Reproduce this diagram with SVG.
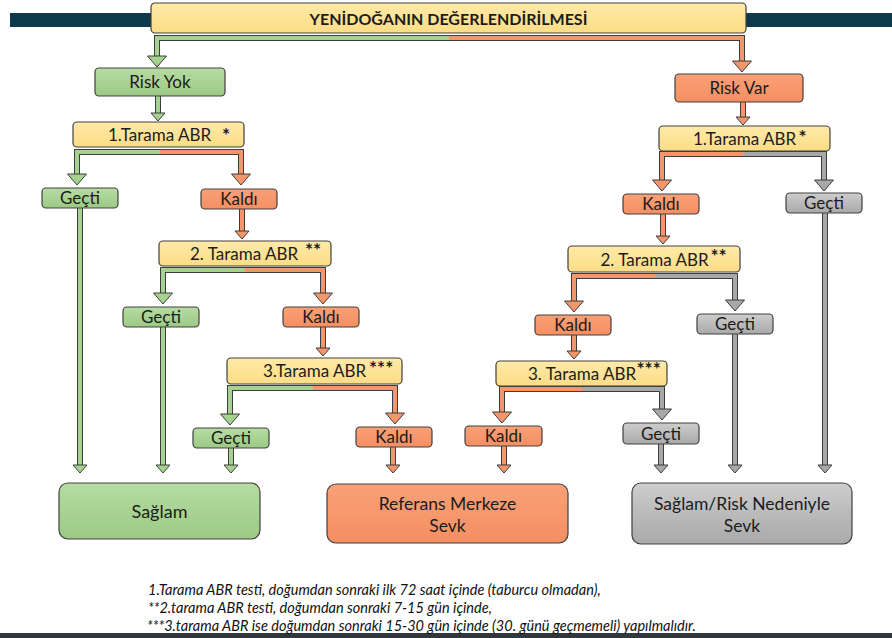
<svg xmlns="http://www.w3.org/2000/svg" xmlns:xlink="http://www.w3.org/1999/xlink" width="892" height="638" viewBox="0 0 892 638">
<defs>
<linearGradient id="gY" x1="0" y1="0" x2="0" y2="1"><stop offset="0" stop-color="#ffeaa8"/><stop offset="1" stop-color="#fcdc86"/></linearGradient>
<linearGradient id="gG" x1="0" y1="0" x2="0" y2="1"><stop offset="0" stop-color="#b6dca3"/><stop offset="1" stop-color="#9bca84"/></linearGradient>
<linearGradient id="gO" x1="0" y1="0" x2="0" y2="1"><stop offset="0" stop-color="#f9a077"/><stop offset="1" stop-color="#f48f62"/></linearGradient>
<linearGradient id="gS" x1="0" y1="0" x2="0" y2="1"><stop offset="0" stop-color="#cdcdcd"/><stop offset="1" stop-color="#a9a9a9"/></linearGradient>
<style>
.box{stroke:#404040;stroke-width:1.2}
.y{fill:url(#gY)}.g{fill:url(#gG)}.o{fill:url(#gO)}.s{fill:url(#gS)}
.t{font-family:Lato,"Open Sans",sans-serif;font-size:17px;fill:#1c1c1c;text-anchor:middle}
.big{font-size:17.5px}
.st{font-family:Lato,"Open Sans",sans-serif;font-size:19px;font-weight:bold;fill:#1c1c1c}
.ttl{font-family:Lato,"Open Sans",sans-serif;font-size:16px;font-weight:bold;fill:#1c1c1c;text-anchor:middle}
.fn{font-family:Lato,"Open Sans",sans-serif;font-size:14.5px;font-style:italic;fill:#111}
.ol{fill:none;stroke:#3d3d3d;stroke-width:6;stroke-linejoin:miter;stroke-linecap:butt}
.cg{fill:none;stroke:#a6d290;stroke-width:4;stroke-linejoin:miter}
.co{fill:none;stroke:#f4956a;stroke-width:4;stroke-linejoin:miter}
.cs{fill:none;stroke:#a8a8a8;stroke-width:4;stroke-linejoin:miter}
.ag{fill:#a6d290;stroke:#3d3d3d;stroke-width:1}
.ao{fill:#f4956a;stroke:#3d3d3d;stroke-width:1}
.as{fill:#a8a8a8;stroke:#3d3d3d;stroke-width:1}
</style>
<path id="p1" d="M449,38 H157 V57"/>
<path id="p2" d="M449,38 H742 V62"/>
<path id="p3" d="M158,96 V114"/>
<path id="p4" d="M743,102 V118"/>
<path id="p5" d="M160,152 H77 V175"/>
<path id="p6" d="M160,152 H241 V175"/>
<path id="p7" d="M80,208 V466"/>
<path id="p8" d="M242,209 V232"/>
<path id="p9" d="M245,270 H163 V294"/>
<path id="p10" d="M245,270 H323 V294"/>
<path id="p11" d="M163,327 V466"/>
<path id="p12" d="M323,327 V349"/>
<path id="p13" d="M313,388 H230 V415"/>
<path id="p14" d="M313,388 H395 V414"/>
<path id="p15" d="M231,448 V466"/>
<path id="p16" d="M393,447 V466"/>
<path id="p17" d="M743,154 H662 V181"/>
<path id="p18" d="M743,154 H824 V181"/>
<path id="p19" d="M663,214 V237"/>
<path id="p20" d="M825,213 V466"/>
<path id="p21" d="M655,276 H574 V302"/>
<path id="p22" d="M655,276 H735 V301"/>
<path id="p23" d="M574,335 V352"/>
<path id="p24" d="M735,334 V466"/>
<path id="p25" d="M582,389 H502 V413"/>
<path id="p26" d="M582,389 H662 V410"/>
<path id="p27" d="M504,446 V466"/>
<path id="p28" d="M661,444 V466"/>
</defs>
<rect x="0" y="0" width="892" height="638" fill="#ffffff"/>
<rect x="10" y="13" width="882" height="14" fill="#0c3a4a"/>
<rect x="0" y="633" width="892" height="5" fill="#30383b"/>

<g id="connectors">
<g id="outlines">
<use xlink:href="#p1" class="ol"/><use xlink:href="#p2" class="ol"/><use xlink:href="#p3" class="ol"/><use xlink:href="#p4" class="ol"/>
<use xlink:href="#p5" class="ol"/><use xlink:href="#p6" class="ol"/><use xlink:href="#p7" class="ol"/><use xlink:href="#p8" class="ol"/>
<use xlink:href="#p9" class="ol"/><use xlink:href="#p10" class="ol"/><use xlink:href="#p11" class="ol"/><use xlink:href="#p12" class="ol"/>
<use xlink:href="#p13" class="ol"/><use xlink:href="#p14" class="ol"/><use xlink:href="#p15" class="ol"/><use xlink:href="#p16" class="ol"/>
<use xlink:href="#p17" class="ol"/><use xlink:href="#p18" class="ol"/><use xlink:href="#p19" class="ol"/><use xlink:href="#p20" class="ol"/>
<use xlink:href="#p21" class="ol"/><use xlink:href="#p22" class="ol"/><use xlink:href="#p23" class="ol"/><use xlink:href="#p24" class="ol"/>
<use xlink:href="#p25" class="ol"/><use xlink:href="#p26" class="ol"/><use xlink:href="#p27" class="ol"/><use xlink:href="#p28" class="ol"/>
</g>
<g id="fills">
<use xlink:href="#p1" class="cg"/><use xlink:href="#p2" class="co"/><use xlink:href="#p3" class="cg"/><use xlink:href="#p4" class="co"/>
<use xlink:href="#p5" class="cg"/><use xlink:href="#p6" class="co"/><use xlink:href="#p7" class="cg"/><use xlink:href="#p8" class="co"/>
<use xlink:href="#p9" class="cg"/><use xlink:href="#p10" class="co"/><use xlink:href="#p11" class="cg"/><use xlink:href="#p12" class="co"/>
<use xlink:href="#p13" class="cg"/><use xlink:href="#p14" class="co"/><use xlink:href="#p15" class="cg"/><use xlink:href="#p16" class="co"/>
<use xlink:href="#p17" class="co"/><use xlink:href="#p18" class="cs"/><use xlink:href="#p19" class="co"/><use xlink:href="#p20" class="cs"/>
<use xlink:href="#p21" class="co"/><use xlink:href="#p22" class="cs"/><use xlink:href="#p23" class="co"/><use xlink:href="#p24" class="cs"/>
<use xlink:href="#p25" class="co"/><use xlink:href="#p26" class="cs"/><use xlink:href="#p27" class="co"/><use xlink:href="#p28" class="cs"/>
</g>
<g id="heads">
<polygon class="ag" points="147.5,56 166.5,56 157,67"/>
<polygon class="ao" points="732.5,61 751.5,61 742,72"/>
<polygon class="ag" points="151,113 165,113 158,121"/>
<polygon class="ao" points="736,117 750,117 743,125"/>
<polygon class="ag" points="67.5,174 86.5,174 77,185"/>
<polygon class="ao" points="231.5,174 250.5,174 241,185"/>
<polygon class="ag" points="73,465 87,465 80,473"/>
<polygon class="ao" points="235,231 249,231 242,239"/>
<polygon class="ag" points="153.5,293 172.5,293 163,304"/>
<polygon class="ao" points="313.5,293 332.5,293 323,304"/>
<polygon class="ag" points="156,465 170,465 163,473"/>
<polygon class="ao" points="316,348 330,348 323,356"/>
<polygon class="ag" points="220.5,414 239.5,414 230,425"/>
<polygon class="ao" points="385.5,413 404.5,413 395,424"/>
<polygon class="ag" points="224,465 238,465 231,473"/>
<polygon class="ao" points="386,465 400,465 393,473"/>
<polygon class="ao" points="652.5,180 671.5,180 662,191"/>
<polygon class="as" points="814.5,180 833.5,180 824,191"/>
<polygon class="ao" points="656,236 670,236 663,244"/>
<polygon class="as" points="818,465 832,465 825,473"/>
<polygon class="ao" points="564.5,301 583.5,301 574,312"/>
<polygon class="as" points="725.5,300 744.5,300 735,311"/>
<polygon class="ao" points="567,351 581,351 574,359"/>
<polygon class="as" points="728,465 742,465 735,473"/>
<polygon class="ao" points="492.5,412 511.5,412 502,423"/>
<polygon class="as" points="652.5,409 671.5,409 662,420"/>
<polygon class="ao" points="497,465 511,465 504,473"/>
<polygon class="as" points="654,465 668,465 661,473"/>
</g>
</g>

<g id="title"><rect class="box y" x="151" y="3" width="595" height="30" rx="4"/><text class="ttl" x="448.5" y="24.5">YENİDOĞANIN DEĞERLENDİRİLMESİ</text></g>
<g id="riskYok"><rect class="box g" x="95" y="68" width="130" height="28" rx="4"/><text class="t" x="160" y="88">Risk Yok</text></g>
<g id="riskVar"><rect class="box o" x="675" y="74" width="128" height="28" rx="4"/><text class="t" x="739" y="94">Risk Var</text></g>

<g id="L1tarama"><rect class="box y" x="73" y="122" width="171" height="25" rx="4"/><text class="t" x="159.5" y="141">1.Tarama ABR</text><text class="st" x="222" y="141.5">*</text></g>
<g id="L1gecti"><rect class="box g" x="42" y="188" width="76" height="20" rx="4"/><text class="t" x="80" y="204">Geçti</text></g>
<g id="L1kaldi"><rect class="box o" x="201" y="189" width="76" height="20" rx="4"/><text class="t" x="239" y="205">Kaldı</text></g>
<g id="L2tarama"><rect class="box y" x="159" y="241" width="172" height="25" rx="4"/><text class="t" x="244" y="259.5">2. Tarama ABR</text><text class="st" x="305" y="257">**</text></g>
<g id="L2gecti"><rect class="box g" x="123" y="307" width="76" height="20" rx="4"/><text class="t" x="161" y="323">Geçti</text></g>
<g id="L2kaldi"><rect class="box o" x="283" y="307" width="76" height="20" rx="4"/><text class="t" x="321" y="323">Kaldı</text></g>
<g id="L3tarama"><rect class="box y" x="227" y="358" width="175" height="26" rx="4"/><text class="t" x="314.5" y="377">3.Tarama ABR</text><text class="st" x="369" y="375">***</text></g>
<g id="L3gecti"><rect class="box g" x="193" y="428" width="76" height="20" rx="4"/><text class="t" x="231" y="444">Geçti</text></g>
<g id="L3kaldi"><rect class="box o" x="356" y="427" width="76" height="20" rx="4"/><text class="t" x="394" y="443">Kaldı</text></g>

<g id="R1tarama"><rect class="box y" x="659" y="126" width="171" height="25" rx="4"/><text class="t" x="744.5" y="145">1.Tarama ABR</text><text class="st" x="798.5" y="143.5">*</text></g>
<g id="R1kaldi"><rect class="box o" x="623" y="194" width="76" height="20" rx="4"/><text class="t" x="661" y="210">Kaldı</text></g>
<g id="R1gecti"><rect class="box s" x="786" y="193" width="76" height="20" rx="4"/><text class="t" x="824" y="209">Geçti</text></g>
<g id="R2tarama"><rect class="box y" x="568" y="246" width="172" height="26" rx="4"/><text class="t" x="654.5" y="265.5">2. Tarama ABR</text><text class="st" x="710.5" y="263">**</text></g>
<g id="R2kaldi"><rect class="box o" x="535" y="315" width="76" height="20" rx="4"/><text class="t" x="573" y="331">Kaldı</text></g>
<g id="R2gecti"><rect class="box s" x="697" y="314" width="76" height="20" rx="4"/><text class="t" x="735" y="330">Geçti</text></g>
<g id="R3tarama"><rect class="box y" x="496" y="361" width="171" height="25" rx="4"/><text class="t" x="582" y="380">3. Tarama ABR</text><text class="st" x="636.5" y="376">***</text></g>
<g id="R3kaldi"><rect class="box o" x="465" y="426" width="77" height="20" rx="4"/><text class="t" x="503.5" y="442">Kaldı</text></g>
<g id="R3gecti"><rect class="box s" x="623" y="423" width="76" height="21" rx="4"/><text class="t" x="661" y="439.5">Geçti</text></g>

<g id="saglam"><rect class="box g" x="59" y="483" width="201" height="56" rx="9"/><text class="t" x="159.5" y="517.5" style="font-size:18px">Sağlam</text></g>
<g id="referans"><rect class="box o" x="327" y="484" width="241" height="59" rx="9"/><text class="t big" x="447.5" y="510">Referans Merkeze</text><text class="t big" x="447.5" y="531.5">Sevk</text></g>
<g id="sevk"><rect class="box s" x="632" y="483" width="220" height="61" rx="9"/><text class="t big" x="742" y="510">Sağlam/Risk Nedeniyle</text><text class="t big" x="742" y="532">Sevk</text></g>

<g id="footnotes">
<text class="fn" x="148" y="595">1.Tarama ABR testi, doğumdan sonraki ilk 72 saat içinde (taburcu olmadan),</text>
<text class="fn" x="148" y="613">**2.tarama ABR testi, doğumdan sonraki 7-15 gün içinde,</text>
<text class="fn" x="147" y="631">***3.tarama ABR ise doğumdan sonraki 15-30 gün içinde (30. günü geçmemeli) yapılmalıdır.</text>
</g>
</svg>
